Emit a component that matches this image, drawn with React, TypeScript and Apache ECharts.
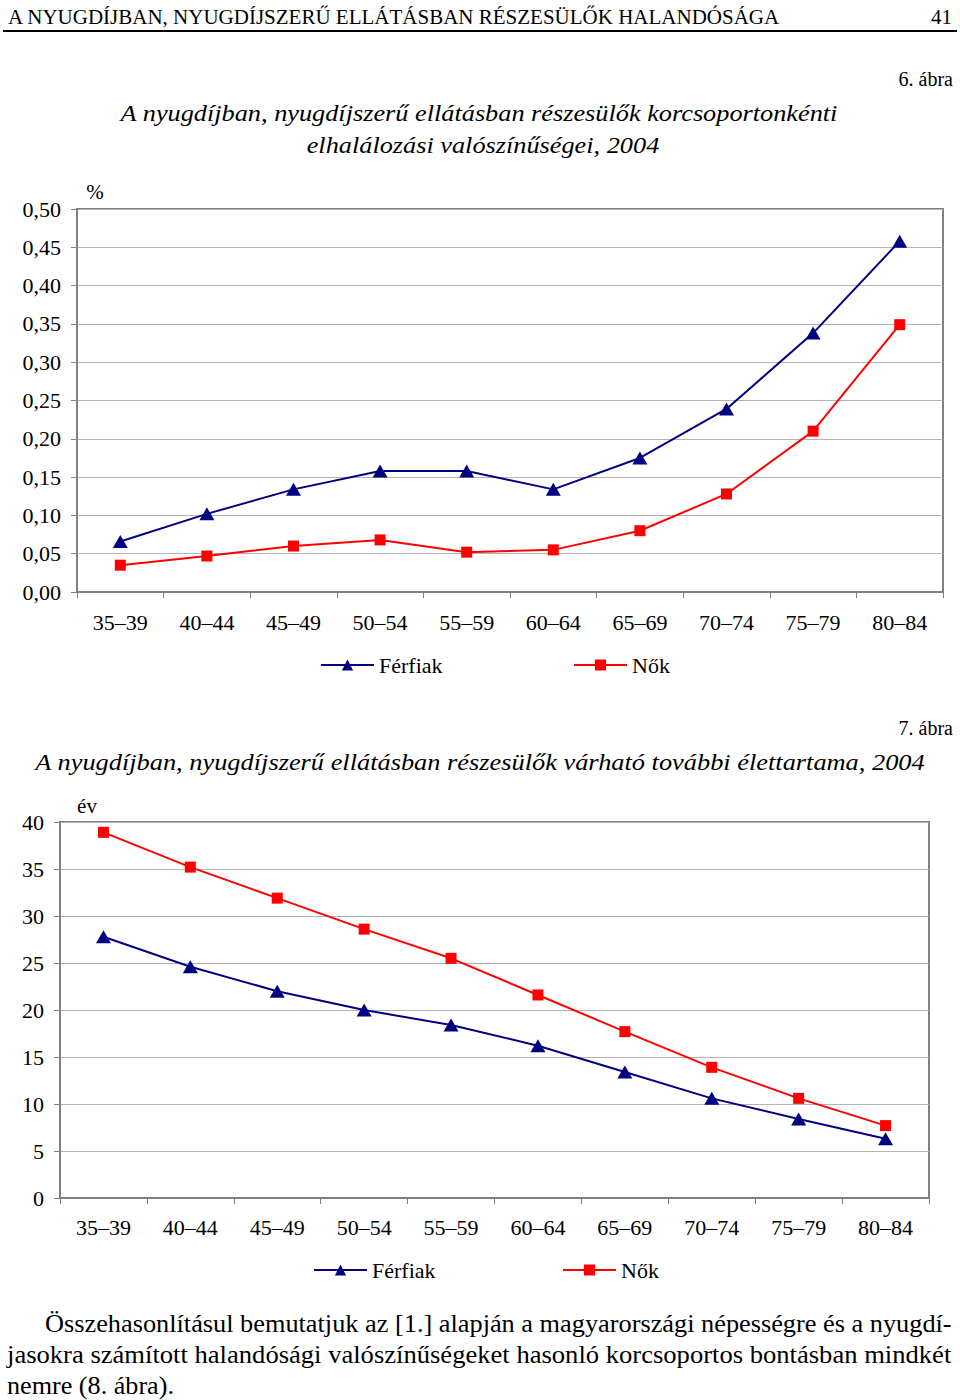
import React, { useEffect, useRef } from "react";
import * as echarts from "echarts";

const ageGroups = ["35–39", "40–44", "45–49", "50–54", "55–59", "60–64", "65–69", "70–74", "75–79", "80–84"];
const mortalityMen = [0.066, 0.102, 0.134, 0.158, 0.158, 0.134, 0.175, 0.239, 0.338, 0.458];
const mortalityWomen = [0.035, 0.047, 0.06, 0.068, 0.052, 0.055, 0.08, 0.128, 0.21, 0.349];
const lifeExpMen = [27.8, 24.6, 22.0, 20.0, 18.4, 16.2, 13.4, 10.6, 8.4, 6.3];
const lifeExpWomen = [38.9, 35.2, 31.9, 28.6, 25.5, 21.6, 17.7, 13.9, 10.6, 7.7];
const seriesNames = ["Férfiak", "Nők"];

const headerText = "A NYUGDÍJBAN, NYUGDÍJSZERŰ ELLÁTÁSBAN RÉSZESÜLŐK HALANDÓSÁGA";
const pageNumber = "41";
const fig1Label = "6. ábra";
const fig1Title = [
  "A nyugdíjban, nyugdíjszerű ellátásban részesülők korcsoportonkénti",
  "elhalálozási valószínűségei, 2004",
];
const fig1Unit = "%";
const fig2Label = "7. ábra";
const fig2Title = "A nyugdíjban, nyugdíjszerű ellátásban részesülők várható további élettartama, 2004";
const fig2Unit = "év";
const paragraph = [
  "Összehasonlításul bemutatjuk az [1.] alapján a magyarországi népességre és a nyugdí-",
  "jasokra számított halandósági valószínűségeket hasonló korcsoportos bontásban mindkét",
  "nemre (8. ábra).",
];

const FONT = "Liberation Serif";
const NAVY = "#000080";
const RED = "#ff0000";
const AXIS = "#808080";
const GRIDLINE = "#b4b4b4";
const LABEL_SIZE = 22;

function measure(text: string, size: number, style = "normal"): number {
  const c = document.createElement("canvas").getContext("2d");
  if (!c) return text.length * size * 0.5;
  c.font = `${style} ${size}px ${FONT}`;
  return c.measureText(text).width;
}

function fitText(text: string, x: number, y: number, size: number, width: number, align: string, style = "normal") {
  const w = measure(text, size, style);
  return {
    type: "text",
    x,
    y,
    scaleX: width / w,
    style: {
      text,
      fontSize: size,
      fontFamily: FONT,
      fontStyle: style,
      fill: "#000",
      textAlign: align,
      textVerticalAlign: "middle",
    },
  };
}

function plainText(text: string, x: number, y: number, size: number, align: string, style = "normal") {
  return {
    type: "text",
    x,
    y,
    style: {
      text,
      fontSize: size,
      fontFamily: FONT,
      fontStyle: style,
      fill: "#000",
      textAlign: align,
      textVerticalAlign: "middle",
    },
  };
}

export default function App() {
  const ref = useRef<HTMLDivElement>(null);
  useEffect(() => {
    if (!ref.current) return;
    const chart = echarts.init(ref.current, null, { renderer: "svg" });

    const headerScale = 772 / measure(headerText, 21);
    const xAxisCommon = (gridIndex: number, margin: number) => ({
      type: "category",
      gridIndex,
      data: ageGroups,
      boundaryGap: true,
      axisLine: { lineStyle: { color: AXIS, width: 2 } },
      axisTick: { show: true, length: 6, lineStyle: { color: AXIS, width: 1 } },
      axisLabel: { interval: 0, fontSize: LABEL_SIZE, fontFamily: FONT, color: "#000", margin },
      splitLine: { show: false },
    });
    const yAxisCommon = (gridIndex: number, max: number, interval: number, fmt: (v: number) => string) => ({
      type: "value",
      gridIndex,
      min: 0,
      max,
      interval,
      axisLine: { show: true, lineStyle: { color: AXIS, width: 2 } },
      axisTick: { show: true, length: 6, lineStyle: { color: AXIS, width: 1 } },
      axisLabel: { fontSize: LABEL_SIZE, fontFamily: FONT, color: "#000", margin: 16, formatter: fmt },
      splitLine: { show: true, lineStyle: { color: GRIDLINE, width: 1 } },
    });
    const lineSeries = (name: string, data: number[], idx: number, isMen: boolean) => ({
      type: "line",
      name,
      xAxisIndex: idx,
      yAxisIndex: idx,
      data,
      symbol: isMen ? "triangle" : "rect",
      symbolSize: isMen ? [15, 13] : 11,
      showSymbol: true,
      lineStyle: { color: isMen ? NAVY : RED, width: 2 },
      itemStyle: { color: isMen ? NAVY : RED },
      z: isMen ? 3 : 2,
    });
    const legendItem = (name: string, left: number, top: number) => ({
      data: [name],
      left,
      top,
      itemWidth: 53,
      itemHeight: 14,
      selectedMode: false,
      textStyle: { fontSize: LABEL_SIZE, fontFamily: FONT, color: "#000" },
    });

    chart.setOption({
      animation: false,
      backgroundColor: "#fff",
      grid: [
        { left: 77, top: 209, width: 866, height: 383, show: true, borderColor: AXIS, borderWidth: 2, containLabel: false },
        { left: 60, top: 822, width: 869, height: 376, show: true, borderColor: AXIS, borderWidth: 2, containLabel: false },
      ],
      xAxis: [xAxisCommon(0, 19), xAxisCommon(1, 18)],
      yAxis: [
        yAxisCommon(0, 0.5, 0.05, (v: number) => v.toFixed(2).replace(".", ",")),
        yAxisCommon(1, 40, 5, (v: number) => String(Math.round(v))),
      ],
      legend: [
        legendItem(seriesNames[0], 315, 649),
        legendItem(seriesNames[1], 568, 649),
        legendItem(seriesNames[0], 308, 1254),
        legendItem(seriesNames[1], 557, 1254),
      ],
      series: [
        lineSeries(seriesNames[0], mortalityMen, 0, true),
        lineSeries(seriesNames[1], mortalityWomen, 0, false),
        lineSeries(seriesNames[0], lifeExpMen, 1, true),
        lineSeries(seriesNames[1], lifeExpWomen, 1, false),
      ],
      graphic: [
        { type: "text", x: 8, y: 17, scaleX: headerScale, style: { text: headerText, fontSize: 21, fontFamily: FONT, fill: "#000", textAlign: "left", textVerticalAlign: "middle" } },
        { type: "text", x: 952, y: 17, scaleX: headerScale, style: { text: pageNumber, fontSize: 21, fontFamily: FONT, fill: "#000", textAlign: "right", textVerticalAlign: "middle" } },
        { type: "line", shape: { x1: 3, y1: 31, x2: 957, y2: 31 }, style: { stroke: "#000", lineWidth: 2 } },
        plainText(fig1Label, 953, 79, 20, "right"),
        fitText(fig1Title[0], 479, 113, 24, 718, "center", "italic"),
        fitText(fig1Title[1], 483, 145, 24, 353, "center", "italic"),
        plainText(fig1Unit, 95, 192, 21, "center"),
        plainText(fig2Label, 953, 728, 20, "right"),
        fitText(fig2Title, 480, 762, 24, 890, "center", "italic"),
        plainText(fig2Unit, 87, 806, 21, "center"),
        fitText(paragraph[0], 45, 1324, 25, 907, "left"),
        fitText(paragraph[1], 7, 1355, 25, 945, "left"),
        fitText(paragraph[2], 7, 1386, 25, 167, "left"),
      ],
    });
    return () => chart.dispose();
  }, []);
  return <div ref={ref} style={{ position: "absolute", left: 0, top: 0, width: 960, height: 1400 }} />;
}
